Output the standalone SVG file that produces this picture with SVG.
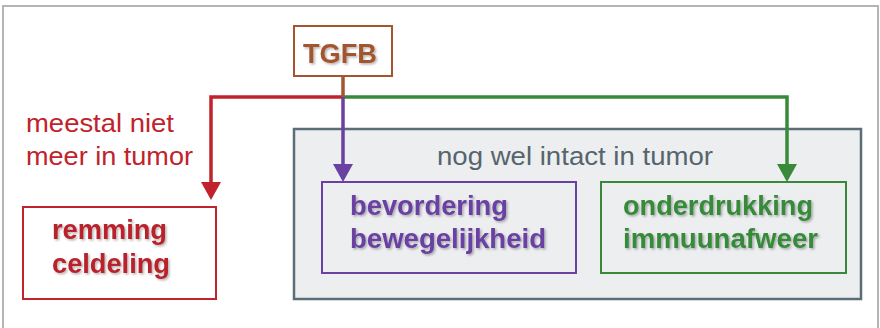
<svg xmlns="http://www.w3.org/2000/svg" width="880" height="328" viewBox="0 0 880 328">
<style>
.frame{fill:none;stroke:#b4b4b4;stroke-width:2}
.box{stroke-width:2}
.lbl{font-family:"Liberation Sans",Arial,sans-serif;font-size:27px;font-weight:bold}
.note{font-family:"Liberation Sans",Arial,sans-serif;font-size:26px}
.con{fill:none;stroke-width:3.5;stroke-linejoin:miter;stroke-linecap:butt}
</style>
<defs>
<filter id="sh" x="-10%" y="-20%" width="130%" height="150%">
<feDropShadow dx="1.5" dy="1.5" stdDeviation="1" flood-color="#000" flood-opacity="0.3"/>
</filter>
<marker id="aR" viewBox="0 0 18 20" refX="8" refY="10" markerWidth="18" markerHeight="20" markerUnits="userSpaceOnUse" orient="auto"><path d="M0,0 L18,10 L0,20 z" fill="#c0232b"/></marker>
<marker id="aP" viewBox="0 0 18 20" refX="8" refY="10" markerWidth="18" markerHeight="20" markerUnits="userSpaceOnUse" orient="auto"><path d="M0,0 L18,10 L0,20 z" fill="#6a40a2"/></marker>
<marker id="aG" viewBox="0 0 18 20" refX="8" refY="10" markerWidth="18" markerHeight="20" markerUnits="userSpaceOnUse" orient="auto"><path d="M0,0 L18,10 L0,20 z" fill="#388a3a"/></marker>
</defs>
<rect width="880" height="328" fill="#ffffff"/>
<path class="frame" d="M3,330 V6 H878 V330"/>

<g id="group-intact">
<rect x="294" y="129" width="567" height="170" fill="#eceef0" stroke="#5b6e78" stroke-width="2.5"/>
<text class="note" x="437" y="165" fill="#56656d" textLength="276" lengthAdjust="spacingAndGlyphs">nog wel intact in tumor</text>
</g>

<g id="tgfb">
<rect class="box" x="294" y="26" width="98" height="50" fill="#ffffff" stroke="#a3552e"/>
<text class="lbl" x="340" y="63" text-anchor="middle" fill="#a3552e" font-size="28" filter="url(#sh)" textLength="74" lengthAdjust="spacingAndGlyphs">TGFB</text>
</g>

<g id="note-red">
<text class="note" fill="#c0232b"><tspan x="26" y="132" textLength="148" lengthAdjust="spacingAndGlyphs">meestal niet</tspan><tspan x="26" y="165" textLength="167" lengthAdjust="spacingAndGlyphs">meer in tumor</tspan></text>
</g>

<g id="remming">
<rect class="box" x="23" y="207" width="193" height="92" fill="#ffffff" stroke="#c0232b"/>
<text class="lbl" fill="#b8212a" filter="url(#sh)"><tspan x="52" y="239" textLength="115" lengthAdjust="spacingAndGlyphs">remming</tspan><tspan x="52" y="273" textLength="118" lengthAdjust="spacingAndGlyphs">celdeling</tspan></text>
</g>

<g id="bevordering">
<rect class="box" x="322" y="182" width="254" height="91" fill="none" stroke="#6a40a2"/>
<text class="lbl" fill="#6a40a2" filter="url(#sh)"><tspan x="350" y="215" textLength="158" lengthAdjust="spacingAndGlyphs">bevordering</tspan><tspan x="350" y="248" textLength="196" lengthAdjust="spacingAndGlyphs">bewegelijkheid</tspan></text>
</g>

<g id="onderdrukking">
<rect class="box" x="601" y="182" width="245" height="91" fill="none" stroke="#388a3a"/>
<text class="lbl" fill="#388a3a" filter="url(#sh)"><tspan x="623" y="215" textLength="190" lengthAdjust="spacingAndGlyphs">onderdrukking</tspan><tspan x="623" y="248" textLength="195" lengthAdjust="spacingAndGlyphs">immuunafweer</tspan></text>
</g>

<g id="connectors">
<path class="con" d="M343,97 H211 V190" stroke="#c0232b" marker-end="url(#aR)"/>
<path class="con" d="M343,97 H787 V172" stroke="#388a3a" marker-end="url(#aG)"/>
<path class="con" d="M343,97 V172" stroke="#6a40a2" marker-end="url(#aP)"/>
<path class="con" d="M343,76 V97" stroke="#a3552e"/>
</g>
</svg>
